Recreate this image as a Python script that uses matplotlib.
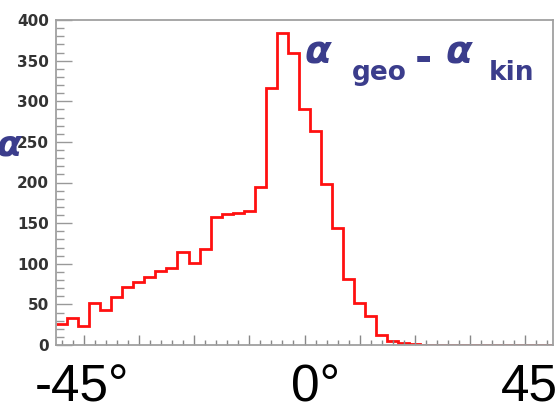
import numpy as np
import matplotlib.pyplot as plt
from matplotlib.ticker import MultipleLocator
from matplotlib.transforms import blended_transform_factory

# alpha_geo - alpha_kin, 2 degree bins from -45 to 45
edges = np.arange(-45, 46, 2)
counts = [26, 33, 23, 52, 43, 59, 72, 78, 84, 91,
          95, 114, 101, 118, 158, 161, 163, 165, 195, 316,
          384, 360, 291, 263, 198, 144, 81, 52, 36, 12,
          5, 2, 1, 0, 0, 0, 0, 0, 0, 0,
          0, 0, 0, 0, 0]
ytick_vals = [0, 50, 100, 150, 200, 250, 300, 350, 400]
xlabels = ["-45°", "0°", "45°"]
xlabel_left = [-48.8, -2.4, 35.5]

W, H = 555, 404
fig = plt.figure(figsize=(W / 100, H / 100), dpi=100)
ax = fig.add_axes([56 / W, 1 - 345 / H, 497 / W, 325 / H])

ax.stairs(counts, edges, baseline=None, color="#ff1010", lw=2.0)

ax.set_xlim(-45, 45)
ax.set_ylim(0, 400)

grey = "#a0a0a0"
for s in ax.spines.values():
    s.set_color(grey)
    s.set_linewidth(1.3)

ax.xaxis.set_major_locator(MultipleLocator(10))
ax.xaxis.set_minor_locator(MultipleLocator(2))
ax.yaxis.set_major_locator(MultipleLocator(50))
ax.yaxis.set_minor_locator(MultipleLocator(10))
ax.tick_params(axis="x", which="major", direction="in", length=7, width=1, color="#888888", labelbottom=False)
ax.tick_params(axis="x", which="minor", direction="in", length=3.5, width=1, color="#888888")
ax.tick_params(axis="y", which="major", direction="in", length=11.5, width=1, color="#999999", pad=5)
ax.tick_params(axis="y", which="minor", direction="in", length=5.8, width=1, color="#999999")
ax.set_yticks(ytick_vals)
ax.set_yticklabels([str(v) for v in ytick_vals], fontsize=11, fontweight="bold", color="#333333")


def px(x, y):
    return x / W, 1 - y / H


# big degree labels under the axis
xtrans = blended_transform_factory(ax.transData, fig.transFigure)
for lab, xl in zip(xlabels, xlabel_left):
    ax.text(xl, 3 / H, lab, transform=xtrans, ha="left", va="baseline",
            fontsize=37, family="Liberation Sans", color="black")

navy = "#3b3d8c"
fig.text(*px(305, 63), "α", fontsize=28, fontweight="bold", style="italic", color=navy, ha="left", va="baseline")
fig.text(*px(352, 80), "geo", fontsize=19, fontweight="bold", color=navy, ha="left", va="baseline")
fig.text(*px(415, 71), "-", fontsize=30, fontweight="bold", color=navy, ha="left", va="baseline")
fig.text(*px(446, 63), "α", fontsize=28, fontweight="bold", style="italic", color=navy, ha="left", va="baseline")
fig.text(*px(489, 80), "kin", fontsize=19, fontweight="bold", color=navy, ha="left", va="baseline")

# axis title, mostly cut off at the left edge
fig.text(*px(21, 155), "α", fontsize=26, fontweight="bold", style="italic", color=navy, ha="right", va="baseline")

fig.savefig("out.png", dpi=100)
